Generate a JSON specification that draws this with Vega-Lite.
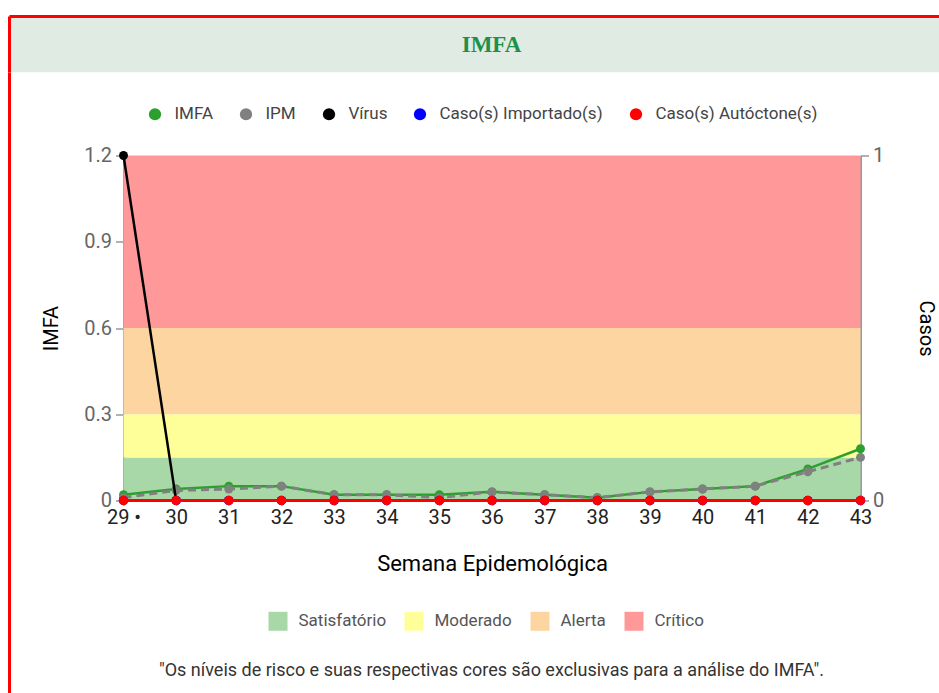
{
  "$schema": "https://vega.github.io/schema/vega-lite/v6.json",
  "padding": {"left": 7.5, "top": 14.5, "right": 0, "bottom": 0},
  "background": "white",
  "spacing": 0,
  "bounds": "flush",
  "config": {
    "font": "Roboto",
    "axis": {"grid": false, "labelFlush": false, "labelOverlap": false}
  },
  "datasets": {
    "cabecalho": [{"titulo": "IMFA"}],
    "faixas": [
      {"faixa": "Satisfatório", "inicio": 0, "fim": 0.15},
      {"faixa": "Moderado", "inicio": 0.15, "fim": 0.3},
      {"faixa": "Alerta", "inicio": 0.3, "fim": 0.6},
      {"faixa": "Crítico", "inicio": 0.6, "fim": 1.2}
    ],
    "series": [
      {"semana": 29, "serie": "IMFA", "valor": 0.02},
      {"semana": 30, "serie": "IMFA", "valor": 0.04},
      {"semana": 31, "serie": "IMFA", "valor": 0.05},
      {"semana": 32, "serie": "IMFA", "valor": 0.05},
      {"semana": 33, "serie": "IMFA", "valor": 0.02},
      {"semana": 34, "serie": "IMFA", "valor": 0.02},
      {"semana": 35, "serie": "IMFA", "valor": 0.02},
      {"semana": 36, "serie": "IMFA", "valor": 0.03},
      {"semana": 37, "serie": "IMFA", "valor": 0.02},
      {"semana": 38, "serie": "IMFA", "valor": 0.01},
      {"semana": 39, "serie": "IMFA", "valor": 0.03},
      {"semana": 40, "serie": "IMFA", "valor": 0.04},
      {"semana": 41, "serie": "IMFA", "valor": 0.05},
      {"semana": 42, "serie": "IMFA", "valor": 0.11},
      {"semana": 43, "serie": "IMFA", "valor": 0.18},
      {"semana": 29, "serie": "IPM", "valor": 0.01},
      {"semana": 30, "serie": "IPM", "valor": 0.035},
      {"semana": 31, "serie": "IPM", "valor": 0.04},
      {"semana": 32, "serie": "IPM", "valor": 0.05},
      {"semana": 33, "serie": "IPM", "valor": 0.02},
      {"semana": 34, "serie": "IPM", "valor": 0.02},
      {"semana": 35, "serie": "IPM", "valor": 0.01},
      {"semana": 36, "serie": "IPM", "valor": 0.03},
      {"semana": 37, "serie": "IPM", "valor": 0.02},
      {"semana": 38, "serie": "IPM", "valor": 0.01},
      {"semana": 39, "serie": "IPM", "valor": 0.03},
      {"semana": 40, "serie": "IPM", "valor": 0.04},
      {"semana": 41, "serie": "IPM", "valor": 0.05},
      {"semana": 42, "serie": "IPM", "valor": 0.10},
      {"semana": 43, "serie": "IPM", "valor": 0.15},
      {"semana": 29, "serie": "Vírus", "valor": 1},
      {"semana": 30, "serie": "Vírus", "valor": 0},
      {"semana": 31, "serie": "Vírus", "valor": 0},
      {"semana": 32, "serie": "Vírus", "valor": 0},
      {"semana": 33, "serie": "Vírus", "valor": 0},
      {"semana": 34, "serie": "Vírus", "valor": 0},
      {"semana": 35, "serie": "Vírus", "valor": 0},
      {"semana": 36, "serie": "Vírus", "valor": 0},
      {"semana": 37, "serie": "Vírus", "valor": 0},
      {"semana": 38, "serie": "Vírus", "valor": 0},
      {"semana": 39, "serie": "Vírus", "valor": 0},
      {"semana": 40, "serie": "Vírus", "valor": 0},
      {"semana": 41, "serie": "Vírus", "valor": 0},
      {"semana": 42, "serie": "Vírus", "valor": 0},
      {"semana": 43, "serie": "Vírus", "valor": 0},
      {"semana": 29, "serie": "Caso(s) Importado(s)", "valor": 0},
      {"semana": 30, "serie": "Caso(s) Importado(s)", "valor": 0},
      {"semana": 31, "serie": "Caso(s) Importado(s)", "valor": 0},
      {"semana": 32, "serie": "Caso(s) Importado(s)", "valor": 0},
      {"semana": 33, "serie": "Caso(s) Importado(s)", "valor": 0},
      {"semana": 34, "serie": "Caso(s) Importado(s)", "valor": 0},
      {"semana": 35, "serie": "Caso(s) Importado(s)", "valor": 0},
      {"semana": 36, "serie": "Caso(s) Importado(s)", "valor": 0},
      {"semana": 37, "serie": "Caso(s) Importado(s)", "valor": 0},
      {"semana": 38, "serie": "Caso(s) Importado(s)", "valor": 0},
      {"semana": 39, "serie": "Caso(s) Importado(s)", "valor": 0},
      {"semana": 40, "serie": "Caso(s) Importado(s)", "valor": 0},
      {"semana": 41, "serie": "Caso(s) Importado(s)", "valor": 0},
      {"semana": 42, "serie": "Caso(s) Importado(s)", "valor": 0},
      {"semana": 43, "serie": "Caso(s) Importado(s)", "valor": 0},
      {"semana": 29, "serie": "Caso(s) Autóctone(s)", "valor": 0},
      {"semana": 30, "serie": "Caso(s) Autóctone(s)", "valor": 0},
      {"semana": 31, "serie": "Caso(s) Autóctone(s)", "valor": 0},
      {"semana": 32, "serie": "Caso(s) Autóctone(s)", "valor": 0},
      {"semana": 33, "serie": "Caso(s) Autóctone(s)", "valor": 0},
      {"semana": 34, "serie": "Caso(s) Autóctone(s)", "valor": 0},
      {"semana": 35, "serie": "Caso(s) Autóctone(s)", "valor": 0},
      {"semana": 36, "serie": "Caso(s) Autóctone(s)", "valor": 0},
      {"semana": 37, "serie": "Caso(s) Autóctone(s)", "valor": 0},
      {"semana": 38, "serie": "Caso(s) Autóctone(s)", "valor": 0},
      {"semana": 39, "serie": "Caso(s) Autóctone(s)", "valor": 0},
      {"semana": 40, "serie": "Caso(s) Autóctone(s)", "valor": 0},
      {"semana": 41, "serie": "Caso(s) Autóctone(s)", "valor": 0},
      {"semana": 42, "serie": "Caso(s) Autóctone(s)", "valor": 0},
      {"semana": 43, "serie": "Caso(s) Autóctone(s)", "valor": 0}
    ]
  },
  "vconcat": [
    {
      "width": 930,
      "height": 56,
      "view": {"fill": "#e0ebe4", "stroke": "#ff0000", "strokeWidth": 3, "strokeDash": [930, 986, 56, 0]},
      "data": {"name": "cabecalho"},
      "mark": {"type": "text", "font": "Liberation Serif", "fontWeight": "bold", "fontSize": 23, "color": "#1d9148", "dx": 17, "baseline": "middle", "align": "center"},
      "encoding": {"text": {"field": "titulo", "type": "nominal"}}
    },
    {
      "width": 930,
      "height": 621,
      "view": {"fill": "white", "stroke": "#ff0000", "strokeWidth": 3, "strokeDash": [0, 2481, 621, 0]},
      "title": {
        "text": "\"Os níveis de risco e suas respectivas cores são exclusivas para a análise do IMFA\".",
        "orient": "bottom", "frame": "group", "anchor": "middle", "offset": -23, "dx": 17,
        "baseline": "middle", "fontSize": 18, "fontWeight": "normal", "color": "#333333", "font": "Roboto"
      },
      "data": {"name": "series"},
      "layer": [
        {
          "layer": [
            {
              "data": {"name": "faixas"},
              "mark": {"type": "rect"},
              "encoding": {
                "x": {"datum": 29, "type": "quantitative"},
                "x2": {"datum": 43},
                "y": {
                  "field": "inicio", "type": "quantitative", "title": "IMFA",
                  "scale": {"domain": [0, 1.2], "range": [428, 83], "nice": false, "zero": false},
                  "axis": {
                    "orient": "left", "offset": -114, "values": [0, 0.3, 0.6, 0.9, 1.2], "format": ".1~f",
                    "domainColor": "#999999", "domainWidth": 2, "tickColor": "#999999", "tickSize": 8, "tickWidth": 1.5,
                    "labelFontSize": 20, "labelColor": "#666666", "labelPadding": 4,
                    "titleFontSize": 20, "titleColor": "#000000", "titleFontWeight": "normal", "titlePadding": 22
                  }
                },
                "y2": {"field": "fim"},
                "fill": {
                  "field": "faixa", "type": "nominal",
                  "scale": {"domain": ["Satisfatório", "Moderado", "Alerta", "Crítico"], "range": ["#a8d8a8", "#ffff99", "#fdd5a0", "#ff9999"]},
                  "legend": {
                    "orient": "none", "legendX": 258, "legendY": 594, "direction": "horizontal", "title": null,
                    "symbolType": "square", "symbolSize": 400, "symbolOpacity": 1, "symbolStrokeColor": "#ffffff", "symbolStrokeWidth": 1,
                    "labelFontSize": 17, "labelColor": "#555555", "labelOffset": 10, "columnPadding": 15, "padding": 0
                  }
                }
              }
            },
            {
              "transform": [{"filter": "datum.serie == 'IMFA'"}],
              "mark": {"type": "line", "strokeWidth": 2.5, "point": {"filled": true, "size": 80}},
              "encoding": {
                "x": {
                  "field": "semana", "type": "quantitative", "title": "Semana Epidemológica",
                  "scale": {"domain": [29, 43], "range": [114, 851], "nice": false, "zero": false},
                  "axis": {
                    "orient": "bottom", "offset": -193, "values": [29, 30, 31, 32, 33, 34, 35, 36, 37, 38, 39, 40, 41, 42, 43],
                    "format": "d",
                    "labelExpr": "datum.value == 29 ? '29 •' : datum.label",
                    "domainColor": "#999999", "tickColor": "#999999", "tickSize": 5,
                    "labelFontSize": 20, "labelColor": "#222222", "labelPadding": 2,
                    "titleFontSize": 22, "titleColor": "#000000", "titleFontWeight": "normal", "titlePadding": 26
                  }
                },
                "y": {"field": "valor", "type": "quantitative", "title": "IMFA"},
                "color": {
                  "field": "serie", "type": "nominal",
                  "scale": {"domain": ["IMFA", "IPM", "Vírus", "Caso(s) Importado(s)", "Caso(s) Autóctone(s)"], "range": ["#2ca02c", "#808080", "#000000", "#0000ff", "#ff0000"]},
                  "legend": {
                    "orient": "none", "legendX": 137, "legendY": 89, "direction": "horizontal", "title": null,
                    "symbolType": "circle", "symbolSize": 150, "symbolOpacity": 1, "symbolStrokeWidth": 0,
                    "labelFontSize": 17, "labelColor": "#444444", "labelOffset": 11, "labelLimit": 400, "columnPadding": 24, "padding": 0,
                    "encode": {"symbols": {"update": {"fill": {"scale": "color", "field": "value"}, "strokeDash": {"value": []}}}}
                  }
                }
              }
            },
            {
              "transform": [{"filter": "datum.serie == 'IPM'"}],
              "mark": {"type": "line", "strokeWidth": 3, "strokeDash": [8, 5], "point": {"filled": true, "size": 80}},
              "encoding": {
                "x": {"field": "semana", "type": "quantitative", "title": "Semana Epidemológica"},
                "y": {"field": "valor", "type": "quantitative", "title": "IMFA"},
                "color": {"field": "serie", "type": "nominal"}
              }
            }
          ]
        },
        {
          "layer": [
            {
              "transform": [{"filter": "datum.serie == 'Vírus'"}],
              "mark": {"type": "line", "strokeWidth": 2.5, "point": {"filled": true, "size": 80}},
              "encoding": {
                "x": {"field": "semana", "type": "quantitative", "title": "Semana Epidemológica"},
                "y": {
                  "field": "valor", "type": "quantitative", "title": "Casos",
                  "scale": {"domain": [0, 1], "range": [428, 83], "nice": false, "zero": false},
                  "axis": {
                    "orient": "right", "offset": -79, "values": [0, 1], "format": "d",
                    "domainColor": "#999999", "domainWidth": 2, "tickColor": "#999999", "tickSize": 8, "tickWidth": 1.5,
                    "labelFontSize": 20, "labelColor": "#666666", "labelPadding": 4,
                    "titleFontSize": 20, "titleColor": "#000000", "titleFontWeight": "normal", "titlePadding": 32
                  }
                },
                "color": {"field": "serie", "type": "nominal"}
              }
            },
            {
              "transform": [{"filter": "datum.serie == 'Caso(s) Importado(s)'"}],
              "mark": {"type": "line", "strokeWidth": 3, "point": {"filled": true, "size": 90}},
              "encoding": {
                "x": {"field": "semana", "type": "quantitative", "title": "Semana Epidemológica"},
                "y": {"field": "valor", "type": "quantitative", "title": "Casos"},
                "color": {"field": "serie", "type": "nominal"}
              }
            },
            {
              "transform": [{"filter": "datum.serie == 'Caso(s) Autóctone(s)'"}],
              "mark": {"type": "line", "strokeWidth": 3, "point": {"filled": true, "size": 90}},
              "encoding": {
                "x": {"field": "semana", "type": "quantitative", "title": "Semana Epidemológica"},
                "y": {"field": "valor", "type": "quantitative", "title": "Casos"},
                "color": {"field": "serie", "type": "nominal"}
              }
            }
          ]
        }
      ],
      "resolve": {"scale": {"y": "independent"}}
    }
  ]
}
